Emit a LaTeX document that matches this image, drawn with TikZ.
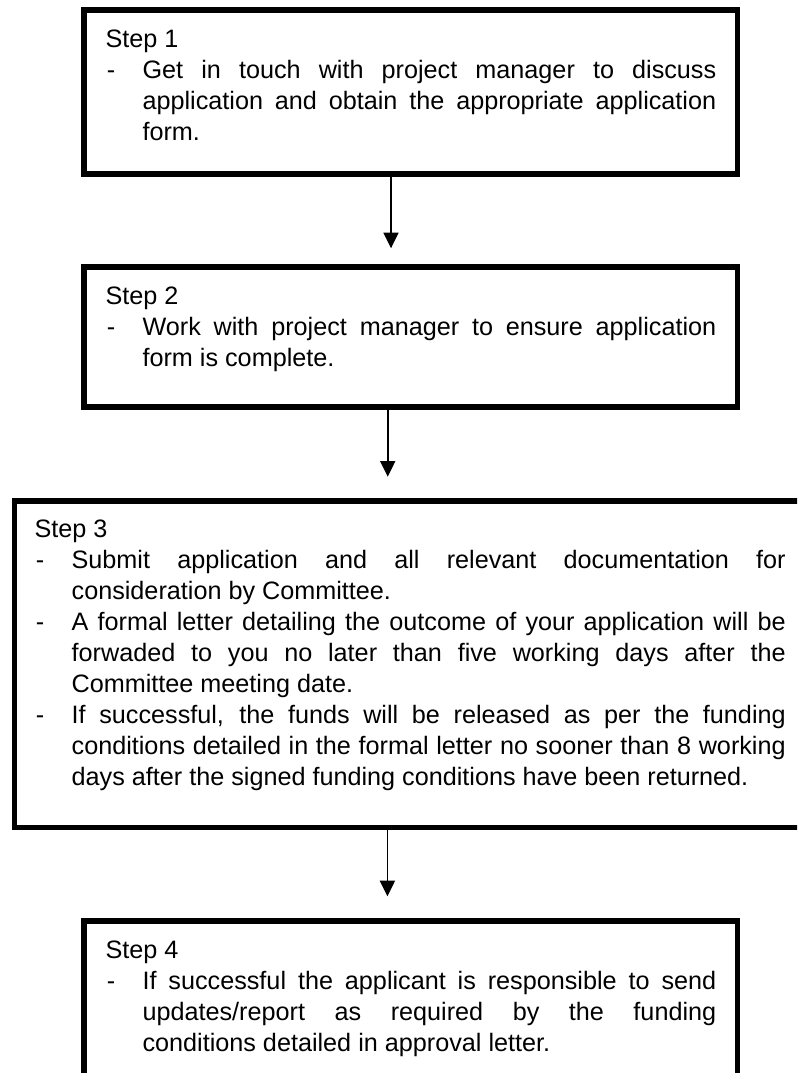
\documentclass[tikz,border=0pt]{standalone}
\usepackage{fontspec}
\setmainfont{Liberation Sans}
\usetikzlibrary{arrows.meta}
\newcommand\stepitem[1]{\par\hangindent=27.75pt\hangafter=1\noindent\makebox[27.75pt][l]{\hspace{1pt}-}#1}
\begin{document}
\begin{tikzpicture}[x=0.75pt,y=-0.75pt,
  stepbox/.style={draw=black, line width=4.1pt, rectangle, inner sep=0pt},
  txt/.style={anchor=north west, inner sep=0pt, align=justify,
    font={\fontsize{18.9pt}{23.25pt}\selectfont\tolerance=10000\hbadness=10000\hyphenpenalty=10000\parindent=0pt\parskip=0pt}},
  arr/.style={line width=1.3pt, -{Triangle[width=11.25pt,length=11.7pt]}}]
\useasboundingbox (0,0) rectangle (797,1073);
\fill[white] (0,0) rectangle (797,1073);
\clip (0,0) rectangle (797,1073);

% boxes
\node[stepbox, minimum width=490.1pt, minimum height=123pt] (b1) at (410.95,92) {};
\node[stepbox, minimum width=490.1pt, minimum height=105pt] (b2) at (410.95,337.2) {};
\node[stepbox, minimum width=594.4pt, minimum height=245pt] (b3) at (410.75,664.15) {};
\node[stepbox, minimum width=490.1pt, minimum height=123pt] (b4) at (410.95,1003) {};

% texts
\node[txt, text width=458pt] (s1) at (105.3,26.8) {\noindent\rule{0pt}{15pt}Step 1\stepitem{Get in touch with project manager to discuss\linebreak application and obtain the appropriate application\linebreak form.}\par};
\node[txt, text width=458pt] (s2) at (105.3,283.8) {\noindent\rule{0pt}{15pt}Step 2\stepitem{Work with project manager to ensure application\linebreak form is complete.}\par};
\node[txt, text width=563.3pt] (s3) at (34.4,517.6) {\noindent\rule{0pt}{15pt}Step 3\stepitem{Submit application and all relevant documentation for\linebreak consideration by Committee.}\stepitem{A formal letter detailing the outcome of your application will be\linebreak forwaded to you no later than five working days after the\linebreak Committee meeting date.}\stepitem{If successful, the funds will be released as per the funding\linebreak conditions detailed in the formal letter no sooner than 8 working\linebreak days after the signed funding conditions have been returned.}\par};
\node[txt, text width=458pt] (s4) at (105.3,937.8) {\noindent\rule{0pt}{15pt}Step 4\stepitem{If successful the applicant is responsible to send\linebreak updates/report as required by the funding\linebreak conditions detailed in approval letter.}\par};

% arrows
\coordinate (t1) at (391,248.3);
\coordinate (t2) at (387.7,476.7);
\coordinate (t3) at (387.4,896.3);
\draw[arr] (b1.south -| t1) -- (t1);
\draw[arr] (b2.south -| t2) -- (t2);
\draw[arr] (b3.south -| t3) -- (t3);
\end{tikzpicture}
\end{document}
